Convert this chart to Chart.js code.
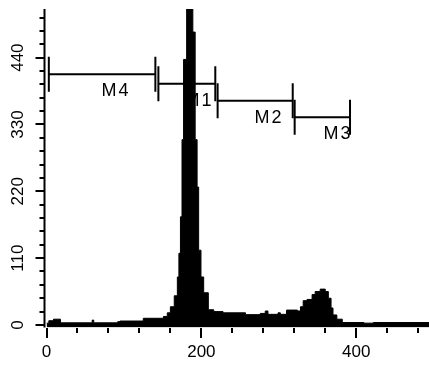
<!DOCTYPE html>
<html>
<head>
<meta charset="utf-8">
<script src="https://cdn.jsdelivr.net/npm/chart.js@4.4.0/dist/chart.umd.min.js"></script>
<style>
  html, body { margin: 0; padding: 0; background: #fff; }
  #wrap { width: 429px; height: 370px; position: relative; }
</style>
</head>
<body>
<div id="wrap"><canvas id="histChart"></canvas></div>
<script>
// histogram: start channel of each step and its count
const binStart = [0, 3, 9, 18, 59, 61, 92, 95, 125, 151, 156, 160, 165, 169, 171, 173, 175, 177, 181,
  189, 192, 194.5, 196.5, 199.5, 203, 209, 216, 228, 257, 276, 282.5, 286, 299, 302, 310,
  324, 328, 331.5, 336.5, 343, 347, 353.5, 360, 364, 367.5, 370, 375, 382, 410, 422, 494];
const counts = [3, 7, 9.5, 3.5, 8, 3.5, 5.5, 6.5, 11, 14, 20, 30, 48, 79, 118, 178, 305, 437, 600,
  482, 305, 227, 123, 79, 53, 25, 22, 20, 17, 19, 23, 17.5, 20, 17.5, 24.5,
  23, 30, 40, 42, 50, 55, 59, 55, 44, 28, 16.5, 9.5, 4, 3, 4, 4];

// axis ticks
const xTickValues = [0, 40, 80, 120, 160, 200, 240, 280, 320, 360, 400, 440, 480];
const xLabels = [0, 200, 400];
const yTickValues = [0, 22, 44, 66, 88, 110, 132, 154, 176, 198, 220, 242, 264, 286, 308, 330,
  352, 374, 396, 418, 440, 462, 484, 506];
const yLabels = [0, 110, 220, 330, 440];

// region markers
const markerNames = ['M1', 'M2', 'M3', 'M4'];
const markerFrom = [144.5, 221, 320.5, 3];
const markerTo = [218, 318, 392, 140.6];
const markerLevel = [397, 369, 342, 412.6];
const markerLabelAt = [197, 287.5, 376.6, 89.8];

const FONT = '"Liberation Sans", Arial, Helvetica, sans-serif';

const axesPlugin = {
  id: 'flowAxes',
  beforeDatasetsDraw(chart) {
    const { ctx, scales: { x, y } } = chart;
    ctx.save();
    ctx.strokeStyle = '#000';
    ctx.fillStyle = '#000';
    ctx.lineWidth = 2;
    ctx.font = '18px ' + FONT;
    ctx.letterSpacing = '2px';
    ctx.textAlign = 'center';
    ctx.textBaseline = 'middle';
    markerNames.forEach((name, i) => {
      const x0 = x.getPixelForValue(markerFrom[i]);
      const x1 = x.getPixelForValue(markerTo[i]);
      const yy = y.getPixelForValue(markerLevel[i]);
      const h = 17.5;
      ctx.beginPath();
      ctx.moveTo(x0, yy); ctx.lineTo(x1, yy);
      ctx.moveTo(x0, yy - h); ctx.lineTo(x0, yy + h);
      ctx.moveTo(x1, yy - h); ctx.lineTo(x1, yy + h);
      ctx.stroke();
      ctx.fillText(name, x.getPixelForValue(markerLabelAt[i]), yy + 17);
    });
    ctx.restore();
  },
  afterDatasetsDraw(chart) {
    const { ctx, chartArea, scales: { x, y } } = chart;
    ctx.save();
    ctx.strokeStyle = '#000';
    ctx.fillStyle = '#000';
    ctx.lineWidth = 2;
    const axisX = chartArea.left - 2;
    ctx.beginPath();
    ctx.moveTo(axisX, chartArea.top);
    ctx.lineTo(axisX, chartArea.bottom);
    yTickValues.forEach(v => {
      const py = Math.round(y.getPixelForValue(v));
      const len = yLabels.includes(v) ? 9 : 5;
      ctx.moveTo(axisX - len, py);
      ctx.lineTo(axisX, py);
    });
    const tickTop = chartArea.bottom + 0.5;
    xTickValues.forEach(v => {
      const px = Math.round(x.getPixelForValue(v));
      const len = xLabels.includes(v) ? 10 : 5;
      ctx.moveTo(px, tickTop);
      ctx.lineTo(px, tickTop + len);
    });
    ctx.stroke();

    ctx.font = '17px ' + FONT;
    ctx.textAlign = 'center';
    ctx.textBaseline = 'middle';
    xLabels.forEach(v => {
      ctx.fillText(String(v), x.getPixelForValue(v), 352);
    });
    yLabels.forEach(v => {
      ctx.save();
      ctx.translate(18, y.getPixelForValue(v));
      ctx.rotate(-Math.PI / 2);
      ctx.fillText(String(v), 0, 0);
      ctx.restore();
    });
    ctx.restore();
  }
};

new Chart(document.getElementById('histChart'), {
  type: 'line',
  data: {
    datasets: [{
      data: binStart.map((b, i) => ({ x: b, y: counts[i] })),
      stepped: 'before',
      fill: { value: -4 },
      backgroundColor: '#000',
      borderColor: '#000',
      borderWidth: 1,
      pointRadius: 0,
      clip: 0
    }]
  },
  options: {
    responsive: true,
    maintainAspectRatio: false,
    animation: false,
    layout: { padding: { left: 46.5, right: 0, top: 9, bottom: 42.6 } },
    plugins: { legend: { display: false }, tooltip: { enabled: false } },
    scales: {
      x: { type: 'linear', min: 0, max: 494, display: false },
      y: { min: -4, max: 520, display: false }
    }
  },
  plugins: [axesPlugin]
});
</script>
</body>
</html>
